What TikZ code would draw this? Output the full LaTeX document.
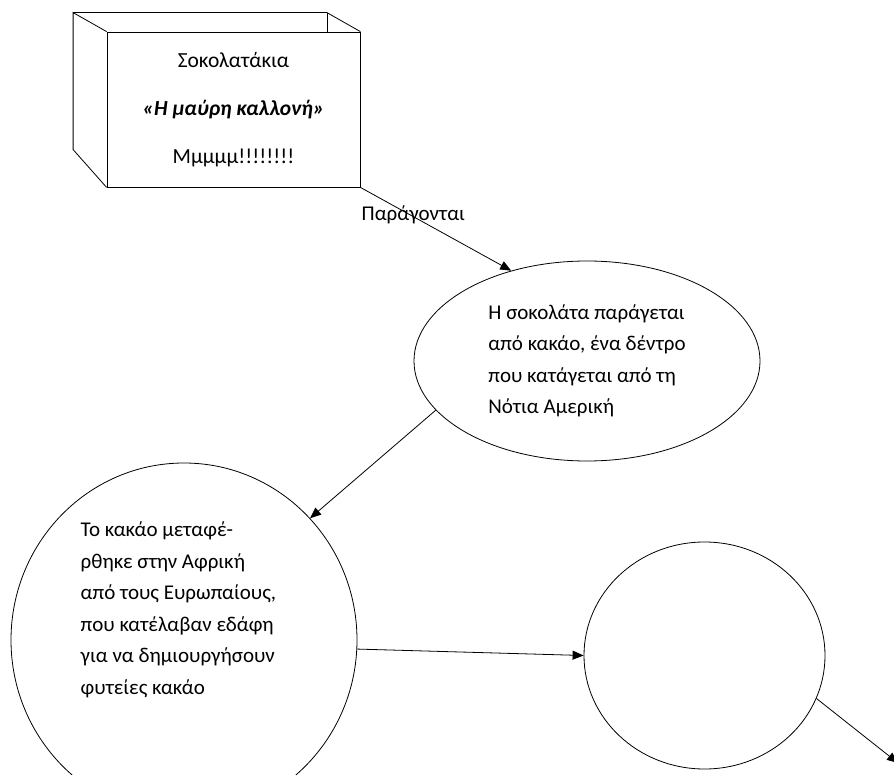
\documentclass[tikz,border=0pt]{standalone}
\usepackage{fontspec}
\setmainfont{Carlito}
\usetikzlibrary{shapes.geometric,arrows.meta,calc}

\begin{document}
\begin{tikzpicture}[x=1pt, y=-1pt, line width=0.8pt,
	font=\fontsize{21}{31.5}\selectfont,
	pfeil/.style={-{Triangle[length=11pt,width=9pt]}},
	oval/.style={draw, ellipse, inner sep=0pt}]
	\useasboundingbox (0,0) rectangle (894,775);
	
		%Kasten vorne
		\node[draw, rectangle, minimum width=253pt, minimum height=155pt, align=center, font=\fontsize{21.5}{48}\selectfont] (kasten) at (233.5,109.5) {Σοκολατάκια\\\textbf{\textit{«Η μαύρη καλλονή»}}\\Μμμμμ!!!!!!!!};
		
		%Kasten hinten
		\draw ($(kasten.north west)+(-33.5,-19)$) -- ($(kasten.north east)+(-33.5,-19)$) -- (kasten.north east);
		\draw ($(kasten.north east)+(-33.5,-19)$) -- ++(0,19);
		\draw (kasten.north west) -- ++(-33.5,-19) -- ++(0,137) -- (kasten.south west);
		
		%Ellipse
		\node[oval, minimum width=346pt, minimum height=200pt, align=left] (kakao) at (587,361) {Η σοκολάτα παράγεται\\από κακάο, ένα δέντρο\\που κατάγεται από τη\\Νότια Αμερική};
		
		%Kreise
		\node[oval, minimum width=346pt, minimum height=354pt] (afrika) at (184,640) {};
		\node[align=left, anchor=west] (afrikatext) at ($(afrika.center)+(-107,-30)$) {Το κακάο μεταφέ-\\ρθηκε στην Αφρική\\από τους Ευρωπαίους,\\που κατέλαβαν εδάφη\\για να δημιουργήσουν\\φυτείες κακάο};
		\node[oval, minimum width=241pt, minimum height=227pt] (kreis) at (704.5,655.5) {};
		\coordinate (ende) at (898,763);
		
		%Pfeile
		\draw[pfeil] (kasten.south east) -- (kakao.130);
		\node[anchor=west] (paragontai) at (358,215) {Παράγονται};
		\draw[pfeil] (kakao.198) -- (afrika.44);
		\draw[pfeil] (afrika.-3) -- (kreis.west);
		\draw[pfeil] (kreis.-21) -- (ende);
		
\end{tikzpicture}
\end{document}
